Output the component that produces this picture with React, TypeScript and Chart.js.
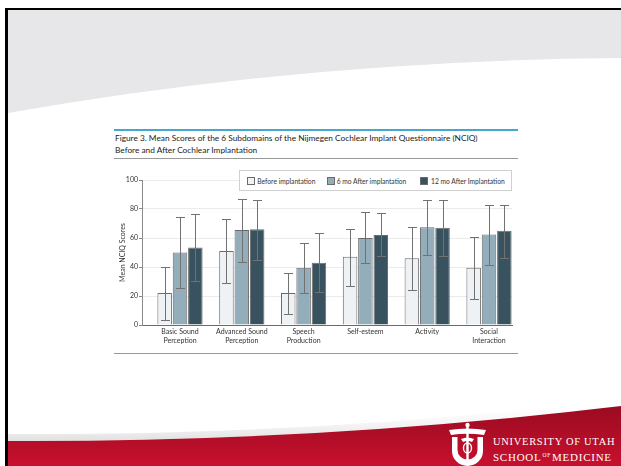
import React, { useEffect, useRef } from 'react';
import { Chart, registerables } from 'chart.js';

Chart.register(...registerables);

// ---------- data ----------
const categories: string[][] = [
  ['Basic Sound', 'Perception'],
  ['Advanced Sound', 'Perception'],
  ['Speech', 'Production'],
  ['Self-esteem'],
  ['Activity'],
  ['Social', 'Interaction'],
];
const seriesNames = ['Before implantation', '6 mo After implantation', '12 mo After Implantation'];

const beforeMean = [22, 51, 22, 47, 46, 39.5];
const beforeLow = [3.5, 29, 7.5, 27, 24, 18];
const beforeHigh = [40, 73, 36, 66.5, 67.5, 60.5];

const sixMean = [50, 65.5, 39.5, 60, 67.5, 62.5];
const sixLow = [25.5, 43.5, 22, 42.5, 48.5, 41.5];
const sixHigh = [74.5, 87, 56.5, 78, 86.5, 82.5];

const twelveMean = [53.5, 66, 43, 62, 67, 65];
const twelveLow = [30.5, 44.5, 22.5, 47.5, 47.5, 46.5];
const twelveHigh = [76.5, 86.5, 63.5, 77, 86, 83];

const yTicks = [0, 20, 40, 60, 80, 100];
const yTitle = 'Mean NCIQ Scores';
const titleLines = [
  'Figure 3. Mean Scores of the 6 Subdomains of the Nijmegen Cochlear Implant Questionnaire (NCIQ)',
  'Before and After Cochlear Implantation',
];

const colors = ['#eef2f5', '#93aeba', '#38535f'];
const FONT = 'Lato, "Open Sans", sans-serif';

const errorBarPlugin = {
  id: 'errorBars',
  afterDatasetsDraw(chart: any) {
    const ctx = chart.ctx;
    const y = chart.scales.y;
    ctx.save();
    ctx.strokeStyle = '#727272';
    ctx.lineWidth = 1;
    chart.data.datasets.forEach((ds: any, di: number) => {
      const meta = chart.getDatasetMeta(di);
      meta.data.forEach((bar: any, i: number) => {
        const x = Math.round(bar.x) + 0.5;
        const lo = Math.round(y.getPixelForValue(ds.errLow[i])) + 0.5;
        const hi = Math.round(y.getPixelForValue(ds.errHigh[i])) + 0.5;
        const cap = 4.5;
        ctx.beginPath();
        ctx.moveTo(x, lo);
        ctx.lineTo(x, hi);
        ctx.moveTo(x - cap, lo);
        ctx.lineTo(x + cap, lo);
        ctx.moveTo(x - cap, hi);
        ctx.lineTo(x + cap, hi);
        ctx.stroke();
      });
    });
    ctx.restore();
  },
};

function BarChart() {
  const ref = useRef<HTMLCanvasElement | null>(null);
  useEffect(() => {
    if (!ref.current) return;
    Chart.defaults.font.family = FONT;
    const mk = (label: string, vals: number[], lo: number[], hi: number[], c: string) => ({
      label,
      data: vals.map((v, i) => ({ x: i, y: v })),
      errLow: lo,
      errHigh: hi,
      backgroundColor: c,
      borderColor: '#6b6b6b',
      borderWidth: 1,
      categoryPercentage: 0.745,
      barPercentage: 0.946,
    });
    const chart = new Chart(ref.current, {
      type: 'bar',
      data: {
        datasets: [
          mk(seriesNames[0], beforeMean, beforeLow, beforeHigh, colors[0]),
          mk(seriesNames[1], sixMean, sixLow, sixHigh, colors[1]),
          mk(seriesNames[2], twelveMean, twelveLow, twelveHigh, colors[2]),
        ] as any,
      },
      options: {
        responsive: false,
        animation: false,
        layout: { padding: { top: 20, right: 18, left: 0, bottom: 0 } },
        plugins: { legend: { display: false }, tooltip: { enabled: false } },
        scales: {
          x: {
            type: 'linear',
            offset: false,
            min: -0.615,
            max: 5.372,
            afterBuildTicks: (s: any) => {
              s.ticks = categories.map((_, i) => ({ value: i }));
            },
            afterFit: (s: any) => {
              s.height = 27;
            },
            grid: { display: false, drawTicks: false, offset: false },
            border: { color: '#6b6b6b' },
            ticks: {
              autoSkip: false,
              maxRotation: 0,
              padding: 3,
              color: '#333',
              font: { size: 7, family: FONT },
              callback: (v: any) => {
                const i = Math.round(Number(v));
                return categories[i] ?? '';
              },
            },
          },
          y: {
            min: 0,
            max: 100,
            afterBuildTicks: (s: any) => {
              s.ticks = yTicks.map((v) => ({ value: v }));
            },
            afterFit: (s: any) => {
              s.width = 26;
            },
            grid: { color: '#ebebeb', tickColor: '#8a8a8a', tickLength: 3 },
            border: { color: '#8a8a8a' },
            ticks: { padding: 1, color: '#333', font: { size: 7, family: FONT } },
            title: {
              display: true,
              text: yTitle,
              color: '#333',
              font: { size: 7, family: FONT },
              padding: { top: 3, bottom: 0 },
            },
          },
        },
      } as any,
      plugins: [errorBarPlugin],
    });
    return () => chart.destroy();
  }, []);
  return (
    <canvas
      ref={ref}
      width={414}
      height={192}
      style={{ position: 'absolute', left: 116, top: 160, width: 414, height: 192 }}
    />
  );
}

export default function App() {
  const legendItems = [
    { sw: 7.7, tx: 18.3 },
    { sw: 87.7, tx: 97.7 },
    { sw: 181.3, tx: 192 },
  ];
  return (
    <div
      style={{
        position: 'fixed',
        left: 0,
        top: 0,
        width: 621,
        height: 466,
        background: '#fff',
        overflow: 'hidden',
        fontFamily: FONT,
      }}
    >
      <svg width={621} height={466} style={{ position: 'absolute', left: 0, top: 0 }}>
        <defs>
          <linearGradient id="red" x1="0" y1="0" x2="0" y2="1">
            <stop offset="0" stopColor="#9a0b21" />
            <stop offset="1" stopColor="#c8102e" />
          </linearGradient>
          <linearGradient id="sw" x1="0" y1="0" x2="0" y2="1">
            <stop offset="0" stopColor="#ffffff" stopOpacity="0" />
            <stop offset="1" stopColor="#d9d9d9" stopOpacity="0.8" />
          </linearGradient>
        </defs>
        <path d="M8,10 L621,10 L621,58 Q305.5,60.5 8,113 Z" fill="#e7e7e9" />
        <path d="M8,434 Q315.5,436 621,399 L621,406 Q315.5,442.5 8,441 Z" fill="url(#sw)" />
        <path d="M8,441 Q315.5,442.5 621,406 L621,466 L8,466 Z" fill="url(#red)" />
        {/* logo */}
        <g fill="#ffffff">
          <circle cx={467.5} cy={425} r={2.2} />
          <path d="M449,430 Q467.5,427 486,430 L484,435 Q467.5,432.5 451,435 Z" />
          <path d="M452,437 L452,451 A15.5,15 0 0 0 483,451 L483,437 L477.5,437 L477.5,450 A10,9.5 0 0 1 457.5,450 L457.5,437 Z" />
          <rect x={466.3} y={425} width={2.4} height={40} />
          <path d="M461,439 Q467.5,436 474,439 L472,442 Q467.5,440 463,442 Z" />
          <ellipse cx={467.5} cy={448} rx={4} ry={5} fill="none" stroke="#ffffff" strokeWidth={1.4} />
        </g>
      </svg>
      <div
        style={{
          position: 'absolute',
          left: 5,
          top: 8,
          width: 616,
          height: 458,
          borderTop: '2px solid #000',
          borderLeft: '3px solid #000',
          boxSizing: 'border-box',
        }}
      />
      <div
        style={{
          position: 'absolute',
          left: 493,
          top: 436,
          color: '#fff',
          fontFamily: '"Liberation Serif", serif',
          fontSize: 10.5,
          letterSpacing: 0.7,
          lineHeight: '12px',
          whiteSpace: 'nowrap',
        }}
      >
        UNIVERSITY OF UTAH
      </div>
      <div
        style={{
          position: 'absolute',
          left: 493,
          top: 448.5,
          color: '#fff',
          fontFamily: '"Liberation Serif", serif',
          fontSize: 11,
          letterSpacing: 0.75,
          lineHeight: '12px',
          whiteSpace: 'nowrap',
        }}
      >
        SCHOOL<span style={{ fontSize: 5.5, verticalAlign: '4px', margin: '0 1px' }}>OF</span>MEDICINE
      </div>

      {/* figure header */}
      <div style={{ position: 'absolute', left: 114, top: 129, width: 404, height: 2, background: '#45a6cf' }} />
      <div
        style={{
          position: 'absolute',
          left: 115,
          top: 133,
          fontSize: 8.3,
          lineHeight: '11.5px',
          color: '#222',
          whiteSpace: 'nowrap',
        }}
      >
        <div>{titleLines[0]}</div>
        <div>{titleLines[1]}</div>
      </div>
      <div style={{ position: 'absolute', left: 114, top: 158, width: 404, height: 1, background: '#9a9a9a' }} />
      <div style={{ position: 'absolute', left: 114, top: 353, width: 404, height: 1, background: '#9a9a9a' }} />

      <BarChart />

      {/* legend */}
      <div
        style={{
          position: 'absolute',
          left: 239,
          top: 170,
          width: 273,
          height: 21,
          border: '1px solid #d0d0d0',
          background: '#fff',
          boxSizing: 'border-box',
        }}
      >
        {legendItems.map((it, i) => (
          <React.Fragment key={i}>
            <div
              style={{
                position: 'absolute',
                left: it.sw - 1,
                top: 6.3,
                width: 8,
                height: 8,
                background: colors[i],
                border: '1px solid #6b6b6b',
                boxSizing: 'border-box',
              }}
            />
            <div
              style={{
                position: 'absolute',
                left: it.tx - 1,
                top: 4.5,
                fontSize: 6.7,
                lineHeight: '11px',
                color: '#333',
                whiteSpace: 'nowrap',
              }}
            >
              {seriesNames[i]}
            </div>
          </React.Fragment>
        ))}
      </div>
    </div>
  );
}
